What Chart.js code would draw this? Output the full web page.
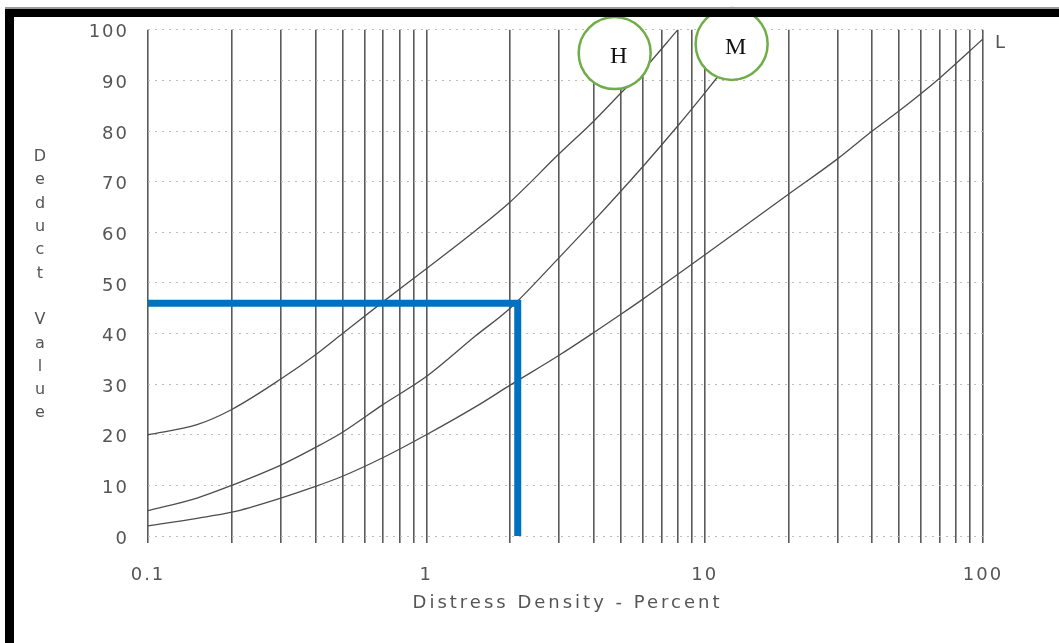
<!DOCTYPE html>
<html>
<head>
<meta charset="utf-8">
<script src="https://cdn.jsdelivr.net/npm/chart.js@4.4.1/dist/chart.umd.min.js"></script>
<style>
  html, body { margin: 0; padding: 0; background: #fff; }
  #wrap { position: relative; width: 1059px; height: 643px; }
</style>
</head>
<body>
<div id="wrap"><canvas id="c" width="1059" height="643"></canvas></div>
<script>
// Deduct value curves by severity level (H, M, L) against distress density (%)
const densityH = [0.1, 0.15, 0.2, 0.3, 0.4, 0.5, 0.7, 1, 1.5, 2, 3, 4, 5, 6, 8];
const deductH  = [20, 22, 25, 31, 35.8, 40, 46.3, 52.8, 60.3, 66, 75.5, 82, 87.5, 92, 100];

const densityM = [0.1, 0.15, 0.2, 0.3, 0.4, 0.5, 0.7, 1, 1.5, 2, 3, 4, 6, 8, 10, 12, 15];
const deductM  = [5, 7.5, 10, 14, 17.5, 20.5, 26, 31.5, 39.5, 45, 55, 62.3, 73, 81, 87.5, 93, 100];

const densityL = [0.1, 0.15, 0.2, 0.3, 0.4, 0.5, 0.7, 1, 1.5, 2, 3, 4, 5, 6, 10, 20, 30, 40, 50, 70, 100];
const deductL  = [2, 3.5, 4.7, 7.5, 9.8, 11.8, 15.5, 20, 25.5, 29.8, 35.7, 40.2, 43.8, 46.8, 55.5, 67.5, 74.5, 80, 84, 90.5, 98.2];

// Worked example: 2.13 % density read across to a deduct value of 46
const readDensity = [0.1, 2.13, 2.13];
const readDeduct  = [46, 46, 0];

// Circled severity tags
const tagText    = ['H', 'M'];
const tagDensity = [4.75, 12.5];
const tagDeduct  = [95.4, 97.2];

// Axis ticks
const gridDensities = [0.1, 0.2, 0.3, 0.4, 0.5, 0.6, 0.7, 0.8, 0.9,
                       1, 2, 3, 4, 5, 6, 7, 8, 9,
                       10, 20, 30, 40, 50, 60, 70, 80, 90, 100];
const labelledDensities = [0.1, 1, 10, 100];
const xTitle = 'Distress Density - Percent';
const yTitle = 'Deduct Value';
const lowCurveTag = 'L';

const pairs = (xs, ys) => xs.map((x, i) => ({ x: x, y: ys[i] }));

const INK = '#555';
const TICK_FONT = '"DejaVu Sans", sans-serif';

const curveStyle = {
  borderColor: '#4d4d4d',
  borderWidth: 1.3,
  pointRadius: 0,
  fill: false,
  cubicInterpolationMode: 'monotone',
  order: 3
};

const decorations = {
  id: 'decorations',
  beforeDraw(chart) {
    chart.ctx.letterSpacing = '2px';
  },
  afterDatasetsDraw(chart) {
    const ctx = chart.ctx;
    const xs = chart.scales.x, ys = chart.scales.y;
    ctx.save();
    ctx.letterSpacing = '0px';
    // letters inside the circled tags
    ctx.fillStyle = '#111';
    ctx.font = '24px "Liberation Serif", serif';
    ctx.textAlign = 'center';
    ctx.textBaseline = 'middle';
    tagText.forEach((t, i) => {
      ctx.fillText(t, xs.getPixelForValue(tagDensity[i]) + 4, ys.getPixelForValue(tagDeduct[i]) + 4);
    });
    // tag at the end of the low-severity curve
    const last = deductL.length - 1;
    ctx.fillStyle = INK;
    ctx.font = '18px ' + TICK_FONT;
    ctx.textAlign = 'left';
    ctx.fillText(lowCurveTag, xs.getPixelForValue(densityL[last]) + 12, ys.getPixelForValue(deductL[last]) + 4);
    ctx.restore();
  },
  afterDraw(chart) {
    const ctx = chart.ctx;
    const area = chart.chartArea;
    ctx.save();
    ctx.fillStyle = INK;
    // x axis title
    ctx.letterSpacing = '3px';
    ctx.font = '18px ' + TICK_FONT;
    ctx.textAlign = 'center';
    ctx.textBaseline = 'middle';
    ctx.fillText(xTitle, (area.left + area.right) / 2 + 2, 603);
    // y axis title, one letter per row
    ctx.letterSpacing = '0px';
    ctx.font = '16px ' + TICK_FONT;
    const letters = yTitle.split('');
    letters.forEach((ch, i) => {
      if (ch !== ' ') ctx.fillText(ch, 40, 157 + i * 23.3);
    });
    // page frame
    ctx.fillStyle = '#999';
    ctx.fillRect(5, 7, 1054, 2);
    ctx.fillStyle = '#000';
    ctx.fillRect(5, 9, 1054, 8);
    ctx.fillRect(5, 9, 9, 634);
    ctx.restore();
  }
};

new Chart(document.getElementById('c'), {
  type: 'line',
  data: {
    datasets: [
      Object.assign({ label: 'H', data: pairs(densityH, deductH) }, curveStyle),
      Object.assign({ label: 'M', data: pairs(densityM, deductM) }, curveStyle),
      Object.assign({ label: 'L', data: pairs(densityL, deductL) }, curveStyle),
      {
        label: 'reading',
        data: pairs(readDensity, readDeduct),
        borderColor: '#0070C0',
        borderWidth: 7,
        borderJoinStyle: 'miter',
        pointRadius: 0,
        fill: false,
        tension: 0,
        order: 2
      },
      {
        label: 'tags',
        type: 'scatter',
        data: pairs(tagDensity, tagDeduct),
        pointRadius: 36,
        pointHoverRadius: 36,
        borderWidth: 2.5,
        borderColor: '#70AD47',
        backgroundColor: '#fff',
        clip: false,
        order: 1
      }
    ]
  },
  options: {
    responsive: false,
    animation: false,
    events: [],
    layout: { autoPadding: false, padding: { left: 0, right: 76, top: 27, bottom: 0 } },
    plugins: { legend: { display: false }, tooltip: { enabled: false } },
    scales: {
      x: {
        type: 'logarithmic',
        min: 0.1,
        max: 100,
        afterBuildTicks(scale) {
          scale.ticks = gridDensities.map(v => ({ value: v }));
        },
        afterFit(scale) { scale.height = 107; },
        ticks: {
          autoSkip: false,
          maxRotation: 0,
          minRotation: 0,
          padding: 22,
          color: INK,
          font: { family: TICK_FONT, size: 18 },
          callback: (v) => labelledDensities.includes(v) ? String(v) : ''
        },
        grid: {
          color: '#5a5a5a',
          lineWidth: 1.6,
          drawTicks: true,
          tickLength: 7
        },
        border: { display: false }
      },
      y: {
        type: 'linear',
        min: 0,
        max: 100,
        afterFit(scale) { scale.width = 148; },
        ticks: {
          stepSize: 10,
          padding: 19,
          labelOffset: 3,
          color: INK,
          font: { family: TICK_FONT, size: 18 }
        },
        grid: {
          color: '#bdbdbd',
          lineWidth: 1,
          drawTicks: false
        },
        border: { display: false, dash: [2, 5] }
      }
    }
  },
  plugins: [decorations]
});
</script>
</body>
</html>
